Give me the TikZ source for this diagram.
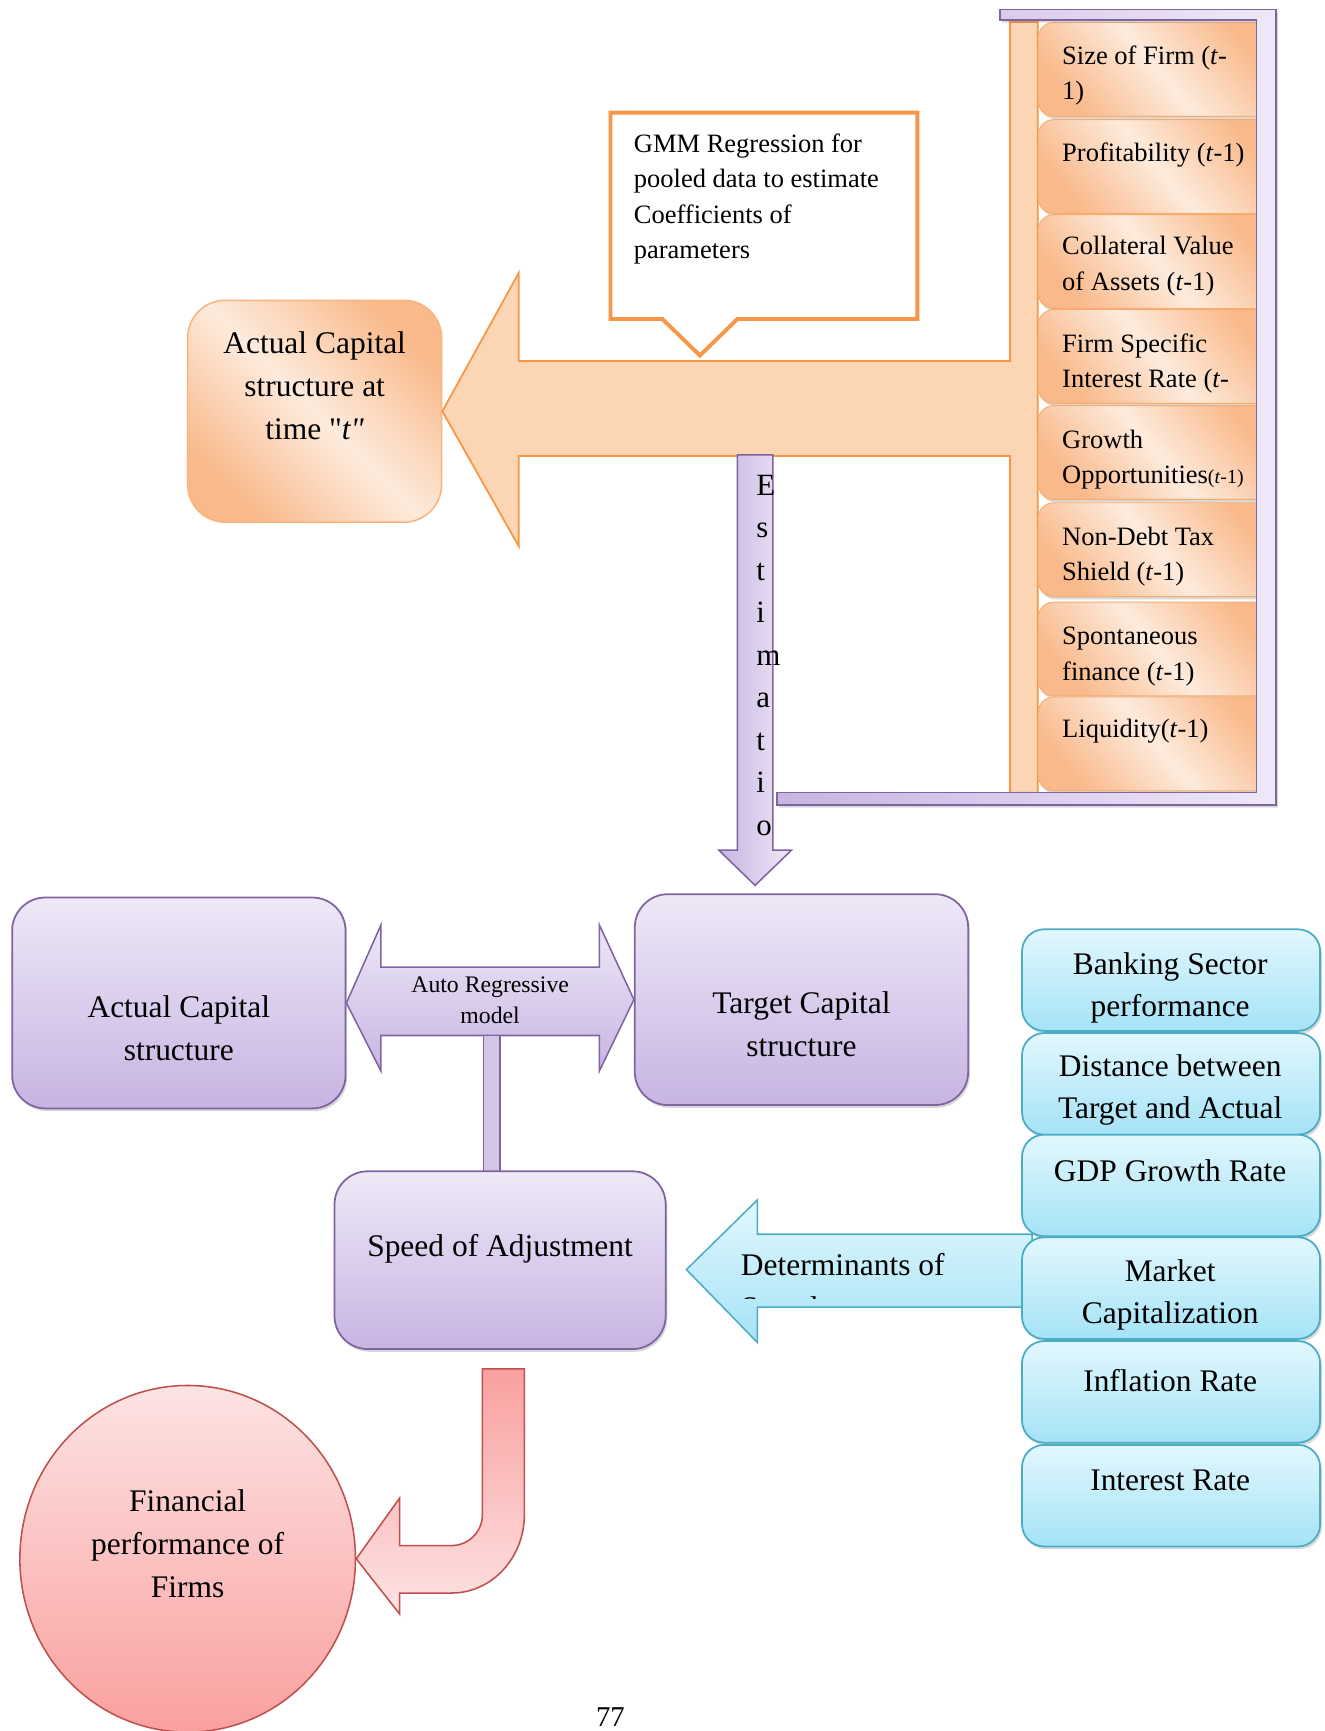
\documentclass[tikz,border=0pt]{standalone}
\usepackage{fontspec}
\setmainfont{Liberation Serif}
\newfontfamily\qfont{Liberation Serif}
\usetikzlibrary{shadows,calc,shapes.geometric}
\definecolor{orB}{HTML}{F79646}
\definecolor{orF}{HTML}{FCD5B4}
\definecolor{orDark}{HTML}{F9B98A}
\definecolor{orLight}{HTML}{FDEBDD}
\definecolor{purB}{HTML}{8064A2}
\definecolor{purT}{HTML}{EEE8F7}
\definecolor{purBot}{HTML}{C7B4E2}
\definecolor{bluB}{HTML}{4BACC6}
\definecolor{bluT}{HTML}{E2F7FD}
\definecolor{bluBot}{HTML}{A5E3F6}
\definecolor{redB}{HTML}{C0504D}
\definecolor{redT}{HTML}{FDE3E3}
\definecolor{redBot}{HTML}{F9A09F}
\begin{document}
\begin{tikzpicture}[x=1pt,y=-1pt,
  every node/.style={inner sep=0pt},
  fA/.style={font=\fontsize{28.5}{39}\selectfont},
  fB/.style={font=\fontsize{24}{32}\selectfont},
  fC/.style={font=\fontsize{21.5}{28}\selectfont},
  shd/.style={drop shadow={opacity=0.3,shadow xshift=1.5pt,shadow yshift=-2.5pt}},
  obox/.style={draw=orB!80, line width=0.8pt, rounded corners=14pt, top color=orDark, bottom color=orDark, middle color=orLight, shading angle=-50, minimum width=215, minimum height=85, anchor=north west, shd},
  otxt/.style={fB, anchor=north west, align=left},
  pbox/.style={draw=purB, line width=1.6pt, rounded corners=30pt, top color=purT, bottom color=purBot, shd},
  bbox/.style={draw=bluB, line width=1.6pt, rounded corners=20pt, top color=bluT, bottom color=bluBot, minimum width=270, minimum height=92, anchor=north west, shd},
  btxt/.style={font=\fontsize{28.5}{38}\selectfont, anchor=north, align=center},
  ctxt/.style={fA, anchor=north, align=center}
]
\fill[white] (0,0) rectangle (1200,1568);
\useasboundingbox (0,0) rectangle (1200,1568);

% ---- top-left box
\node[draw=orB!70, line width=1.4pt, rounded corners=34pt, top color=orDark, bottom color=orDark, middle color=orLight, shading angle=-45, minimum width=230, minimum height=201] (actT) at (285,372.5) {};
\node[ctxt] (actTt) at (285,300) {Actual Capital\\structure at\\time {\qfont"\textit{t"}}};

% ---- big orange arrow with bar
\path[draw=orB, line width=1.6pt, fill=orF] (915,20) -- (940,20) -- (940,718) -- (915,718) -- (915,413) -- (470,413) -- (470,495) -- (actT.east) -- (470,247) -- (470,327) -- (915,327) -- cycle;

% ---- callout
\path[draw=orB, line width=3.5pt, fill=white] (553,102) -- (831,102) -- (831,289) -- (668,289) -- (634,322) -- (600,289) -- (553,289) -- cycle;
\node[fB, anchor=north west, align=left] (gmm) at (574,121) {GMM Regression for\\pooled data to estimate\\Coefficients of\\parameters};

% ---- orange list
\node[obox] (f1) at (940,20) {};
\node[obox] (f2) at (940,108) {};
\node[obox] (f3) at (940,194) {};
\node[obox] (f4) at (940,280) {};
\node[obox] (f5) at (940,367) {};
\node[obox] (f6) at (940,455) {};
\node[obox] (f7) at (940,545) {};
\node[obox] (f8) at (940,631) {};
\node[otxt] (f1t) at (962,41) {Size of Firm (\textit{t}-\\1)};
\node[otxt] (f2t) at (962,129) {Profitability (\textit{t}-1)};
\node[otxt] (f3t) at (962,214) {Collateral Value\\of Assets (\textit{t}-1)};
\node[otxt] (f4t) at (962,302) {Firm Specific\\Interest Rate (\textit{t}-};
\node[otxt] (f5t) at (962,389) {Growth\\Opportunities{\fontsize{18}{20}\selectfont(\textit{t}-1)}};
\node[otxt] (f6t) at (962,477) {Non-Debt Tax\\Shield (\textit{t}-1)};
\node[otxt] (f7t) at (962,568) {Spontaneous\\finance (\textit{t}-1)};
\node[otxt] (f8t) at (962,651) {Liquidity(\textit{t}-1)};

% ---- purple frame
\path[draw=purB, line width=1.4pt, left color=purBot, right color=purT, shd] (906,8.5) -- (1156,8.5) -- (1156,729) -- (704,729) -- (704,718) -- (1138,718) -- (1138,18) -- (906,18) -- cycle;

% ---- estimation arrow
\path[draw=purB, line width=1.4pt, left color=purBot, right color=purT] (668,412) -- (700,412) -- (700,770) -- (717,770) -- (684,802) -- (651,770) -- (668,770) -- cycle;
\node[font=\fontsize{28}{38.5}\selectfont, anchor=north west, align=left] (estT) at (685,430) {E\\s\\t\\i\\m\\a\\t\\i\\o};

% ---- purple boxes
\node[pbox, minimum width=302, minimum height=191] (actC) at (162,908.5) {};
\node[ctxt] (actCt) at (162,902) {Actual Capital\\structure};
\node[pbox, minimum width=302, minimum height=191] (tgtC) at (726,905.5) {};
\node[ctxt] (tgtCt) at (726,898) {Target Capital\\structure};

% double arrow
\path[draw=purB, line width=1.4pt, top color=purT, bottom color=purBot] (actC.east) -- (345,838) -- (345,876) -- (543,876) -- (543,838) -- (tgtC.west) -- (543,970) -- (543,938) -- (345,938) -- (345,970) -- cycle;
\node[fC, anchor=north, align=center] (arT) at (444,885) {Auto Regressive\\model};

% connector to speed
\path[draw=purB, line width=1.2pt, fill=purBot!70!purT] (438,938) rectangle (453,1062);
\node[pbox, minimum width=300, minimum height=161] (speed) at (453,1141.5) {};
\node[ctxt] (speedt) at (453,1118) {Speed of Adjustment};

% ---- determinants arrow
\path[draw=bluB, line width=1.4pt, top color=bluT, bottom color=bluBot] (speed.east) ++(18,8.5) coordinate (dtip) -- (686,1087) -- (686,1118) -- (935,1118) -- (935,1184) -- (686,1184) -- (686,1216) -- cycle;
\begin{scope}
\clip (660,1120) rectangle (930,1176);
\node[fA, anchor=north west, align=left] (detT) at (671,1135) {Determinants of\\Speed};
\end{scope}

% ---- blue boxes
\node[bbox] (b1) at (925,841) {};
\node[bbox] (b2) at (925,935) {};
\node[bbox] (b3) at (925,1027) {};
\node[bbox] (b4) at (925,1120) {};
\node[bbox] (b5) at (925,1214) {};
\node[bbox] (b6) at (925,1308) {};
\node[btxt] (b1t) at (1060,863) {Banking Sector\\performance};
\node[btxt] (b2t) at (1060,955) {Distance between\\Target and Actual};
\node[btxt] (b3t) at (1060,1050) {GDP Growth Rate};
\node[btxt] (b4t) at (1060,1141) {Market\\Capitalization};
\node[btxt] (b5t) at (1060,1240) {Inflation Rate};
\node[btxt] (b6t) at (1060,1331) {Interest Rate};

% ---- red ellipse and U arrow
\node[ellipse, draw=redB, line width=1.4pt, top color=redT, bottom color=redBot, minimum width=304, minimum height=314] (fin) at (170,1412) {};
\node[ctxt] (fint) at (170,1349) {Financial\\performance of\\Firms};
\path[draw=redB, line width=1.4pt, top color=redBot, bottom color=redT] (437,1240) -- (475,1240) -- (475,1372) arc[start angle=0, end angle=90, x radius=66, y radius=71] -- (362,1443) -- (362,1462) -- (fin.east) -- (362,1357) -- (362,1400) -- (409,1400) arc[start angle=90, end angle=0, radius=28] -- cycle;

\node[font=\fontsize{26}{30}\selectfont] (pg) at (553,1555) {77};
\end{tikzpicture}
\end{document}
